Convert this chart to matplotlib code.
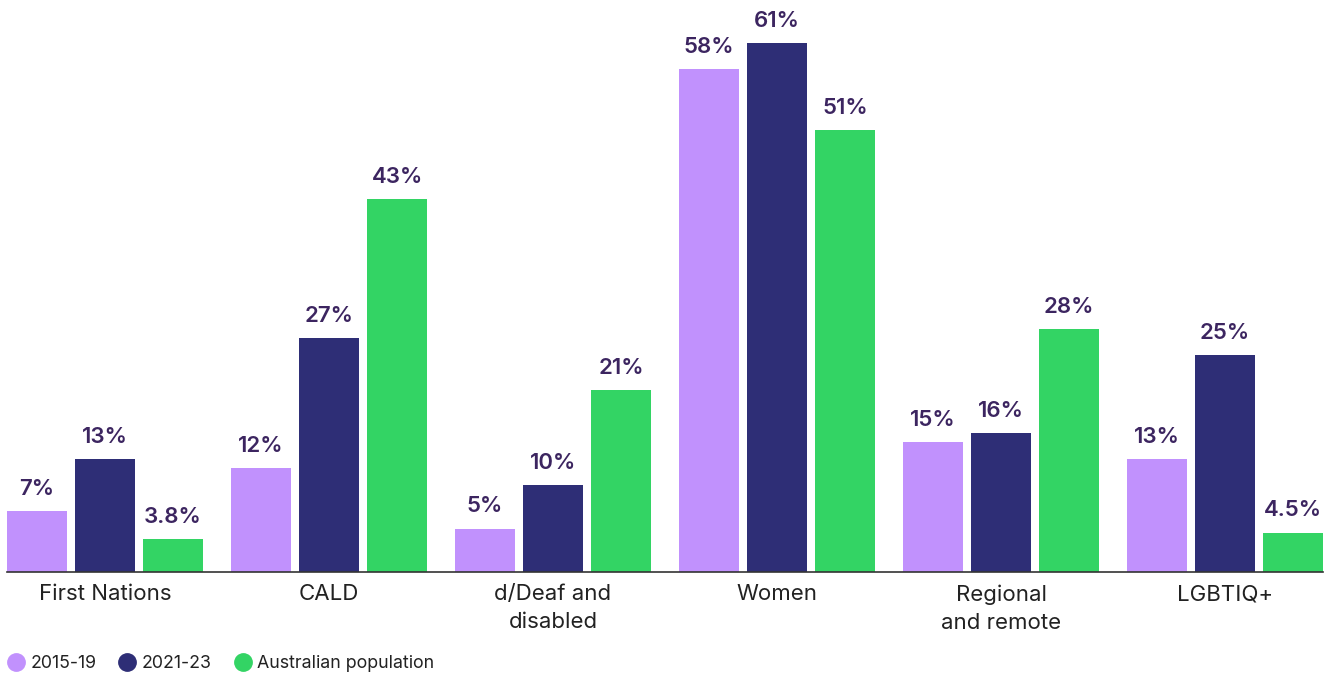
import matplotlib.pyplot as plt
import numpy as np

# Share of each group, by period, compared with the Australian population
categories = ["First Nations", "CALD", "d/Deaf and\ndisabled", "Women",
              "Regional\nand remote", "LGBTIQ+"]
series_names = ["2015-19", "2021-23", "Australian population"]
share_2015_19 = [7, 12, 5, 58, 15, 13]
share_2021_23 = [13, 27, 10, 61, 16, 25]
share_population = [3.8, 43, 21, 51, 28, 4.5]
value_labels = [
    ["7%", "12%", "5%", "58%", "15%", "13%"],
    ["13%", "27%", "10%", "61%", "16%", "25%"],
    ["3.8%", "43%", "21%", "51%", "28%", "4.5%"],
]

colors = ["#c191fd", "#2e2e76", "#33d464"]
label_color = "#3c2560"
text_color = "#222222"

plt.rcParams['font.family'] = ['Inter', 'DejaVu Sans']

fig = plt.figure(figsize=(13.32, 6.74), dpi=100)
ax = fig.add_axes([7 / 1332, 102 / 674, 1316 / 1332, 572 / 674])

x = np.arange(len(categories))
bar_w = 0.268
step = 0.3036
series = [share_2015_19, share_2021_23, share_population]

for i, (vals, col, name) in enumerate(zip(series, colors, series_names)):
    bars = ax.bar(x + (i - 1) * step, vals, width=bar_w, color=col, label=name)
    for rect, txt in zip(bars, value_labels[i]):
        ax.annotate(txt, (rect.get_x() + rect.get_width() / 2, rect.get_height()),
                    xytext=(0, 9), textcoords="offset points",
                    ha="center", va="bottom", fontsize=16, fontweight="semibold",
                    color=label_color)

ax.set_xlim(-0.4375, len(categories) - 1 + 0.4375)
ax.set_ylim(0, 66)
ax.set_xticks(x)
ax.set_xticklabels(categories, fontsize=16, color=text_color, linespacing=1.5)
ax.tick_params(axis="x", length=0, pad=9)
ax.set_yticks([])
for side in ["top", "right", "left"]:
    ax.spines[side].set_visible(False)
ax.spines["bottom"].set_color("#333333")
ax.spines["bottom"].set_linewidth(1.2)

handles = [plt.Line2D([], [], marker="o", linestyle="", markersize=12.5,
                      markerfacecolor=c, markeredgecolor=c) for c in colors]
fig.legend(handles, series_names, loc="lower left", bbox_to_anchor=(-0.008, -0.021),
           ncol=3, frameon=False, fontsize=12.8, handletextpad=0.2,
           columnspacing=1.15, handlelength=1.2, labelcolor=text_color)

fig.savefig("out.png", dpi=100)
